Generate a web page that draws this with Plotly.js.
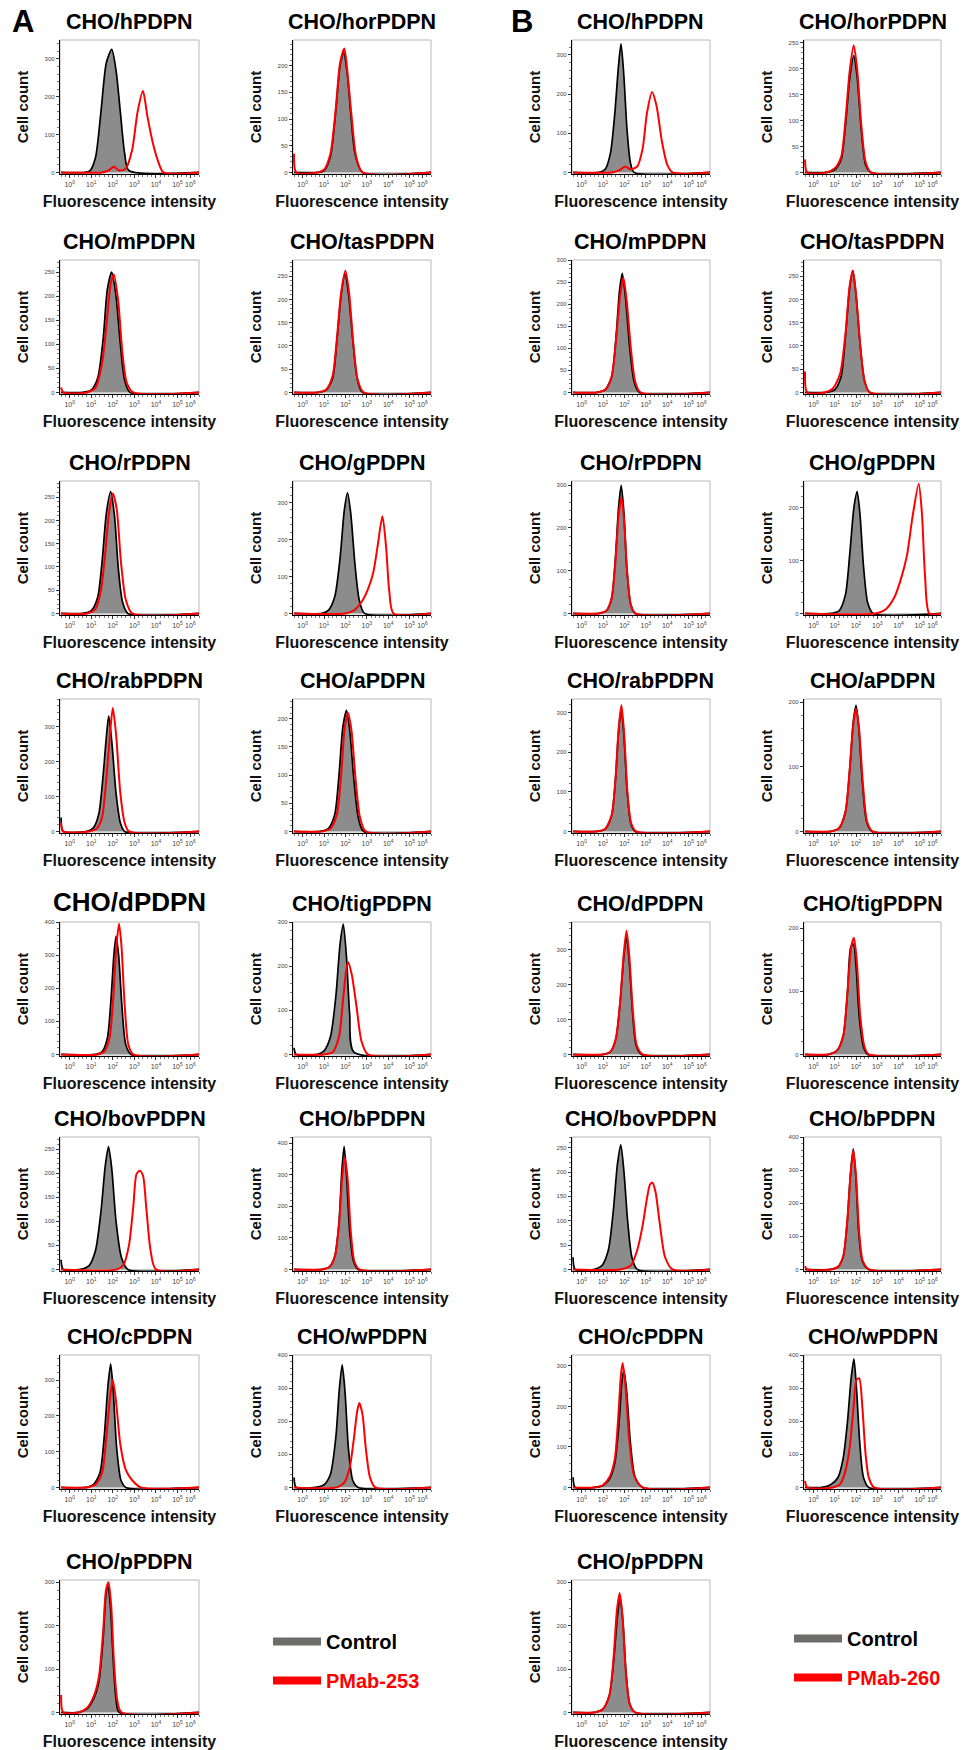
<!DOCTYPE html>
<html>
<head>
<meta charset="utf-8">
<script src="https://cdn.plot.ly/plotly-3.0.1.min.js"></script>
<style>html,body{margin:0;padding:0;background:#fff;}#chart{width:971px;height:1750px;}</style>
</head>
<body>
<div id="chart"></div>
<script>
// ---------------- DATA ----------------
const panelNames = ['CHO/hPDPN','CHO/horPDPN','CHO/mPDPN','CHO/tasPDPN','CHO/rPDPN','CHO/gPDPN',
  'CHO/rabPDPN','CHO/aPDPN','CHO/dPDPN','CHO/tigPDPN','CHO/bovPDPN','CHO/bPDPN','CHO/cPDPN','CHO/wPDPN','CHO/pPDPN'];
const tickVals = [0, 1, 2, 3, 4, 5, 5.6];
const tickText = ['10<sup>0</sup>','10<sup>1</sup>','10<sup>2</sup>','10<sup>3</sup>','10<sup>4</sup>','10<sup>5</sup>','10<sup>6</sup>'];
const seriesNames = ['Control', 'PMab-253', 'PMab-260'];

// Panel A (PMab-253)
const yMaxA  = [350, 248, 275, 285, 285, 358, 380, 235, 400, 300, 275, 420, 370, 400, 305];
const yStepA = [100, 50, 50, 50, 50, 100, 100, 50, 100, 100, 50, 100, 100, 100, 100];
const ctrlXA = [
  [-0.4,0.7,0.95,1.2,1.45,1.7,1.95,2.15,2.35,2.55,2.75,6.0],
  [-0.4,0.7,1.0,1.3,1.55,1.75,1.92,2.1,2.25,2.45,2.8,6.0],
  [-0.4,0.6,1.0,1.3,1.55,1.75,1.95,2.15,2.35,2.55,2.8,6.0],
  [-0.4,0.7,1.1,1.4,1.6,1.8,1.98,2.15,2.35,2.55,2.8,6.0],
  [-0.4,0.6,1.0,1.3,1.5,1.7,1.9,2.08,2.25,2.45,2.7,6.0],
  [-0.4,0.9,1.2,1.5,1.75,1.95,2.1,2.25,2.45,2.65,2.9,6.0],
  [-0.4,-0.3,0.8,1.1,1.35,1.55,1.7,1.81,1.95,2.15,2.35,2.55,6.0],
  [-0.4,0.8,1.2,1.5,1.7,1.88,2.05,2.2,2.4,2.6,2.85,6.0],
  [-0.4,1.2,1.5,1.75,1.92,2.05,2.15,2.27,2.42,2.6,2.85,6.0],
  [-0.4,-0.3,0.7,1.0,1.3,1.55,1.75,1.9,2.05,2.2,2.4,6.0],
  [-0.4,-0.3,0.5,0.9,1.2,1.45,1.65,1.8,1.95,2.15,2.4,2.7,6.0],
  [-0.4,0.9,1.25,1.5,1.7,1.83,1.94,2.05,2.2,2.38,2.6,6.0],
  [-0.4,0.7,1.1,1.4,1.6,1.77,1.9,2.02,2.18,2.38,2.6,6.0],
  [-0.4,-0.3,0.6,1.0,1.3,1.55,1.72,1.85,1.98,2.15,2.35,2.6,6.0],
  [-0.4,0.4,0.8,1.1,1.35,1.55,1.68,1.76,1.88,2.02,2.15,2.3,6.0]
];
const ctrlYA = [
  [0,0,5,40,160,290,325,270,160,50,5,0],
  [0,0,3,30,115,200,225,180,110,35,0,0],
  [0,0,5,30,110,215,250,200,100,25,0,0],
  [0,0,5,30,110,210,255,210,110,30,0,0],
  [0,0,6,35,110,215,262,210,100,25,0,0],
  [0,0,8,45,150,280,326,270,130,35,0,0],
  [40,0,0,10,50,160,270,331,260,110,25,0,0],
  [0,0,5,30,100,185,215,180,90,25,0,0],
  [0,0,8,50,170,300,357,300,150,30,0,0],
  [15,0,0,8,40,130,250,295,220,90,5,0],
  [20,0,0,8,40,120,215,255,210,100,25,0,0],
  [0,0,8,40,150,310,390,300,120,25,0,0],
  [0,0,8,40,140,280,345,270,110,20,0,0],
  [30,0,0,8,40,150,300,370,290,110,20,0,0],
  [0,0,8,30,70,170,270,293,250,120,30,0,0]
];
const redXA = [
  [-0.4,1.5,1.8,2.05,2.3,2.6,2.9,3.15,3.4,3.6,3.85,4.1,4.35,6.0],
  [-0.4,-0.3,0.7,1.0,1.3,1.55,1.75,1.95,2.1,2.3,2.5,2.8,6.0],
  [-0.4,-0.3,0.8,1.2,1.5,1.75,1.9,2.05,2.25,2.45,2.65,2.95,6.0],
  [-0.4,0.7,1.1,1.4,1.6,1.8,2.0,2.17,2.37,2.57,2.85,6.0],
  [-0.4,0.8,1.2,1.45,1.65,1.82,2.0,2.18,2.38,2.6,2.9,6.0],
  [-0.4,2.0,2.4,2.8,3.05,3.3,3.5,3.73,3.9,4.05,4.25,6.0],
  [-0.4,-0.3,0.9,1.25,1.5,1.7,1.87,2.0,2.15,2.35,2.55,2.75,6.0],
  [-0.4,0.9,1.3,1.6,1.8,1.97,2.12,2.28,2.48,2.68,2.95,6.0],
  [-0.4,1.3,1.6,1.85,2.03,2.17,2.29,2.4,2.55,2.72,2.95,6.0],
  [-0.4,1.0,1.4,1.7,1.9,2.05,2.13,2.3,2.52,2.75,3.05,6.0],
  [-0.4,2.2,2.5,2.75,2.95,3.1,3.25,3.4,3.55,3.75,4.0,6.0],
  [-0.4,0.9,1.25,1.5,1.7,1.85,1.97,2.1,2.25,2.42,2.65,6.0],
  [-0.4,0.8,1.2,1.5,1.7,1.87,2.0,2.15,2.35,2.6,2.9,3.3,6.0],
  [-0.4,1.6,1.95,2.2,2.4,2.55,2.65,2.8,2.95,3.15,3.4,6.0],
  [-0.4,-0.3,0.4,0.8,1.1,1.35,1.55,1.68,1.8,1.92,2.05,2.2,2.4,6.0]
];
const redYA = [
  [0,0,5,15,5,10,60,160,215,150,80,30,0,0],
  [35,0,0,5,35,120,205,232,185,100,30,0,0],
  [10,0,0,10,60,160,225,245,190,80,20,0,0],
  [0,0,6,35,115,215,262,215,105,28,0,0],
  [0,0,10,50,130,215,258,225,110,30,0,0],
  [0,0,8,35,65,110,180,263,180,60,0,0],
  [25,0,0,8,40,150,280,354,280,110,25,0,0],
  [0,0,5,30,100,185,210,180,90,25,0,0],
  [0,0,8,50,180,330,395,330,150,30,0,0],
  [0,0,5,40,130,195,209,180,108,30,0,0],
  [0,0,10,50,130,198,205,195,130,40,0,0],
  [0,0,8,40,140,290,355,290,120,25,0,0],
  [0,0,8,40,140,250,300,240,120,50,20,0,0],
  [0,0,15,60,150,230,255,220,120,30,0,0],
  [40,0,0,10,35,80,185,280,300,250,120,30,0,0]
];

// Panel B (PMab-260)
const yMaxB  = [338, 255, 300, 285, 310, 250, 335, 205, 380, 210, 272, 400, 327, 400, 305];
const yStepB = [100, 50, 50, 50, 100, 100, 100, 100, 100, 100, 50, 100, 100, 100, 100];
const ctrlXB = [
  [-0.4,0.8,1.1,1.35,1.55,1.72,1.84,1.97,2.12,2.28,2.45,6.0],
  [-0.4,0.6,1.0,1.3,1.5,1.7,1.89,2.05,2.25,2.45,2.7,6.0],
  [-0.4,0.7,1.1,1.4,1.6,1.77,1.9,2.05,2.25,2.45,2.7,6.0],
  [-0.4,0.6,1.0,1.3,1.5,1.7,1.85,2.0,2.2,2.4,2.65,6.0],
  [-0.4,0.8,1.15,1.4,1.58,1.73,1.85,1.97,2.12,2.3,2.5,6.0],
  [-0.4,0.8,1.2,1.5,1.7,1.9,2.05,2.18,2.35,2.55,2.8,6.0],
  [-0.4,0.7,1.1,1.4,1.58,1.73,1.85,1.98,2.13,2.3,2.5,6.0],
  [-0.4,0.8,1.2,1.5,1.7,1.87,2.0,2.13,2.3,2.5,2.75,6.0],
  [-0.4,1.0,1.35,1.6,1.8,1.97,2.1,2.22,2.38,2.55,2.8,6.0],
  [-0.4,0.7,1.1,1.4,1.6,1.75,1.88,2.0,2.15,2.35,2.55,6.0],
  [-0.4,-0.3,0.6,0.95,1.25,1.48,1.67,1.83,1.98,2.15,2.35,2.6,6.0],
  [-0.4,0.8,1.15,1.4,1.58,1.74,1.87,1.99,2.13,2.3,2.6,6.0],
  [-0.4,-0.3,0.6,1.0,1.3,1.55,1.75,1.88,1.97,2.1,2.28,2.5,2.85,6.0],
  [-0.4,0.4,0.8,1.15,1.4,1.6,1.77,1.9,2.02,2.18,2.35,2.6,6.0],
  [-0.4,0.6,1.0,1.3,1.5,1.67,1.8,1.93,2.08,2.25,2.5,6.0]
];
const ctrlYB = [
  [0,0,8,50,150,270,328,250,110,25,0,0],
  [0,0,5,25,90,180,225,185,80,15,0,0],
  [0,0,6,35,120,230,270,215,100,25,0,0],
  [0,0,6,35,120,225,262,210,100,25,0,0],
  [0,0,6,35,130,250,300,240,100,20,0,0],
  [0,0,5,35,110,200,230,190,90,20,0,0],
  [0,0,6,40,130,255,310,240,100,20,0,0],
  [0,0,5,30,95,170,195,160,75,15,0,0],
  [0,0,8,45,150,280,340,270,120,25,0,0],
  [0,0,6,30,100,170,175,140,60,12,0,0],
  [25,0,0,8,40,120,215,256,200,100,25,0,0],
  [0,0,8,40,140,290,364,280,110,25,0,0],
  [25,0,0,5,20,60,160,260,290,240,110,25,0,0],
  [0,0,8,30,90,200,330,388,300,130,30,0,0],
  [0,0,8,40,120,220,265,210,90,20,0,0]
];
const redXB = [
  [-0.4,1.4,1.75,2.03,2.3,2.6,2.85,3.05,3.29,3.5,3.75,4.0,4.25,6.0],
  [-0.4,-0.3,0.6,1.0,1.3,1.5,1.7,1.89,2.05,2.25,2.45,2.7,6.0],
  [-0.4,0.7,1.1,1.4,1.6,1.8,1.95,2.1,2.3,2.5,2.75,6.0],
  [-0.4,-0.3,0.5,0.9,1.25,1.5,1.7,1.85,2.0,2.2,2.4,2.65,6.0],
  [-0.4,0.8,1.15,1.4,1.58,1.73,1.86,1.98,2.13,2.3,2.52,6.0],
  [-0.4,2.9,3.4,3.8,4.15,4.4,4.65,4.95,5.1,5.25,5.45,6.0],
  [-0.4,0.7,1.1,1.4,1.58,1.73,1.86,1.99,2.14,2.32,2.55,6.0],
  [-0.4,0.8,1.2,1.5,1.7,1.87,2.0,2.14,2.32,2.52,2.78,6.0],
  [-0.4,1.0,1.35,1.6,1.8,1.97,2.1,2.23,2.4,2.58,2.85,6.0],
  [-0.4,0.7,1.1,1.4,1.6,1.77,1.9,2.03,2.2,2.4,2.6,6.0],
  [-0.4,1.8,2.3,2.6,2.85,3.05,3.2,3.31,3.45,3.65,3.9,4.25,6.0],
  [-0.4,-0.3,0.8,1.15,1.4,1.58,1.74,1.87,2.0,2.15,2.32,2.62,6.0],
  [-0.4,0.6,1.0,1.3,1.55,1.72,1.84,1.92,2.05,2.22,2.45,2.85,6.0],
  [-0.4,-0.3,0.9,1.25,1.5,1.7,1.88,2.02,2.15,2.3,2.45,2.6,2.85,6.0],
  [-0.4,0.6,1.0,1.3,1.5,1.65,1.78,1.91,2.06,2.24,2.5,6.0]
];
const redYB = [
  [0,0,5,15,8,15,60,150,205,170,80,20,0,0],
  [25,0,0,8,30,100,195,245,200,90,20,0,0],
  [0,0,6,35,115,220,260,210,100,25,0,0],
  [45,0,0,8,40,125,230,262,210,100,25,0,0],
  [0,0,6,35,120,230,272,220,95,20,0,0],
  [0,0,8,30,70,110,180,245,190,70,0,0],
  [0,0,6,40,130,260,320,245,100,20,0,0],
  [0,0,5,30,95,165,190,160,75,15,0,0],
  [0,0,8,45,150,290,355,280,120,25,0,0],
  [0,0,6,30,100,170,185,150,60,12,0,0],
  [0,0,8,40,90,145,175,178,160,95,25,0,0],
  [10,0,0,8,40,140,285,360,280,110,25,0,0],
  [0,0,6,25,70,180,280,307,250,120,30,0,0],
  [20,0,0,10,50,120,240,325,330,240,100,30,0,0],
  [0,0,8,40,130,235,275,220,95,20,0,0]
];

// ---------------- LAYOUT (pixel geometry) ----------------
const W = 971, H = 1750;
const FONT = 'Liberation Sans, Arial, Helvetica, sans-serif';
const colLeft  = [60, 293, 572, 804];
const colRight = [199, 431, 710, 941];
const rowTop   = [40, 260, 481, 699, 922, 1137, 1355, 1580];
const plotH = 134;

const traces = [];
const layout = {
  width: W, height: H,
  margin: {l: 0, r: 0, t: 0, b: 0},
  paper_bgcolor: '#fff', plot_bgcolor: '#fff',
  font: {family: FONT, color: '#000'},
  showlegend: true,
  annotations: [], shapes: []
};

const panels = [
  {ctrlX: ctrlXA, ctrlY: ctrlYA, redX: redXA, redY: redYA, yMax: yMaxA, yStep: yStepA, colOff: 0, red: seriesNames[1], legend: 'legend'},
  {ctrlX: ctrlXB, ctrlY: ctrlYB, redX: redXB, redY: redYB, yMax: yMaxB, yStep: yStepB, colOff: 2, red: seriesNames[2], legend: 'legend2'}
];

let k = 0;
panels.forEach(function (P, pi) {
  panelNames.forEach(function (name, j) {
    k += 1;
    const row = Math.floor(j / 2), col = P.colOff + (j % 2);
    const xs = k === 1 ? '' : String(k);
    const xa = 'x' + xs, ya = 'y' + xs;
    const x0 = colLeft[col] / W, x1 = colRight[col] / W;
    const yTop = 1 - rowTop[row] / H, yBot = 1 - (rowTop[row] + plotH) / H;

    traces.push({
      x: P.ctrlX[j], y: P.ctrlY[j], type: 'scatter', mode: 'lines',
      fill: 'tozeroy', fillcolor: '#8c8c8c',
      line: {color: '#000', width: 1.7, shape: 'spline', smoothing: 0.7},
      xaxis: xa, yaxis: ya, showlegend: false, hoverinfo: 'skip'
    });
    traces.push({
      x: P.redX[j], y: P.redY[j], type: 'scatter', mode: 'lines',
      line: {color: '#ff0000', width: 2, shape: 'spline', smoothing: 0.7},
      xaxis: xa, yaxis: ya, showlegend: false, hoverinfo: 'skip'
    });

    layout['xaxis' + xs] = {
      domain: [x0, x1], anchor: ya, range: [-0.45, 6.0],
      tickmode: 'array', tickvals: tickVals, ticktext: tickText, tickangle: 0,
      tickfont: {size: 7, color: '#444', family: FONT},
      ticks: 'outside', ticklen: 3, tickwidth: 1, tickcolor: '#333',
      minor: {tickmode: 'linear', tick0: 0, dtick: 0.2, ticks: 'outside', ticklen: 2, tickcolor: '#777'},
      showline: true, linecolor: '#000', linewidth: 1.2,
      showgrid: false, zeroline: false, fixedrange: true,
      title: {text: 'Fluorescence intensity', font: {size: 16, family: FONT, weight: 'bold', color: '#111'}, standoff: 9}
    };
    layout['yaxis' + xs] = {
      domain: [yBot, yTop], anchor: xa, range: [-P.yMax[j] * 0.012, P.yMax[j]],
      tickmode: 'linear', tick0: 0, dtick: P.yStep[j], tickangle: 0,
      tickfont: {size: 6, color: '#444', family: FONT},
      ticks: 'outside', ticklen: 3, tickwidth: 1, tickcolor: '#333',
      minor: {tickmode: 'linear', tick0: 0, dtick: P.yStep[j] / 5, ticks: 'outside', ticklen: 2, tickcolor: '#777'},
      showline: true, linecolor: '#000', linewidth: 1.2,
      showgrid: false, zeroline: false, fixedrange: true,
      title: {text: 'Cell count', font: {size: 15, family: FONT, weight: 'bold', color: '#111'}, standoff: 12}
    };
    layout.shapes.push({
      type: 'rect', xref: xa + ' domain', yref: ya + ' domain', x0: 0, x1: 1, y0: 0, y1: 1,
      line: {color: '#b8b8b8', width: 1}, layer: 'below'
    });
    const big = (pi === 0 && j === 8);
    layout.annotations.push({
      text: name, xref: 'paper', yref: 'paper', x: (x0 + x1) / 2, y: yTop,
      xanchor: 'center', yanchor: 'middle', yshift: big ? 20 : 18, showarrow: false,
      font: {size: big ? 26 : 21.5, family: FONT, weight: 'bold', color: '#000'}
    });
  });

  // legend entries for this panel group
  traces.push({
    x: [null], y: [null], type: 'scatter', mode: 'lines', name: seriesNames[0],
    line: {color: '#6e6b6b', width: 8}, legend: P.legend, legendgroup: 'c' + pi, showlegend: true,
    xaxis: 'x', yaxis: 'y', hoverinfo: 'skip'
  });
  traces.push({
    x: [null], y: [null], type: 'scatter', mode: 'lines',
    name: '<span style="color:#ff0000">' + P.red + '</span>',
    line: {color: '#ff0000', width: 8}, legend: P.legend, legendgroup: 'r' + pi, showlegend: true,
    xaxis: 'x', yaxis: 'y', hoverinfo: 'skip'
  });
});

const legendBase = {
  xanchor: 'left', yanchor: 'top', bgcolor: 'rgba(0,0,0,0)', borderwidth: 0,
  font: {size: 20, family: FONT, weight: 'bold', color: '#000'},
  itemwidth: 48, tracegroupgap: 10, traceorder: 'grouped'
};
layout.legend = Object.assign({}, legendBase, {x: 268 / W, y: 1 - 1622 / H});
layout.legend2 = Object.assign({}, legendBase, {x: 789 / W, y: 1 - 1619 / H});

layout.annotations.push({text: 'A', xref: 'paper', yref: 'paper', x: 23 / W, y: 1 - 22 / H,
  xanchor: 'center', yanchor: 'middle', showarrow: false, font: {size: 31, family: FONT, weight: 'bold', color: '#000'}});
layout.annotations.push({text: 'B', xref: 'paper', yref: 'paper', x: 522 / W, y: 1 - 22 / H,
  xanchor: 'center', yanchor: 'middle', showarrow: false, font: {size: 31, family: FONT, weight: 'bold', color: '#000'}});

Plotly.newPlot('chart', traces, layout, {staticPlot: true, displayModeBar: false});
</script>
</body>
</html>
